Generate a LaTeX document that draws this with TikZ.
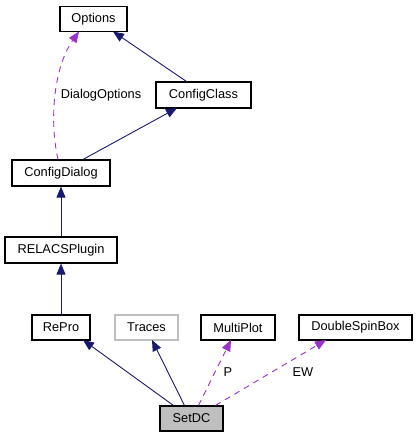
\documentclass[tikz,border=0pt]{standalone}
\usepackage{fontspec}
\setmainfont{Liberation Sans}
\usetikzlibrary{arrows.meta}
\definecolor{navyedge}{HTML}{191970}
\definecolor{purpleedge}{HTML}{9A32CD}
\definecolor{grayfill}{HTML}{BFBFBF}
\begin{document}
\begin{tikzpicture}[x=1pt,y=-1pt,
  box/.style={draw=black,line width=1.1pt,fill=white,inner sep=0pt,font=\fontsize{12.8}{15}\selectfont},
  inherit/.style={draw=navyedge,line width=0.9pt,-{Triangle[length=11pt,width=9pt,fill=navyedge]}},
  usage/.style={draw=purpleedge,line width=0.9pt,dash pattern=on 6pt off 5pt,-{Triangle[length=11pt,width=9pt,fill=purpleedge]}},
  lbl/.style={font=\fontsize{12.8}{15}\selectfont,inner sep=0pt}]
\useasboundingbox (0,0) rectangle (416,437);
\node[box,minimum width=67pt,minimum height=25pt] (options) at (93.5,19) {Options};
\node[box,minimum width=95pt,minimum height=26pt] (configclass) at (203.5,95) {ConfigClass};
\node[box,minimum width=98pt,minimum height=26pt] (configdialog) at (61,173) {ConfigDialog};
\node[box,minimum width=112pt,minimum height=26pt] (relacs) at (61,250) {RELACSPlugin};
\node[box,minimum width=58pt,minimum height=25pt] (repro) at (61,327.5) {RePro};
\node[box,draw=grayfill,minimum width=63pt,minimum height=25pt] (traces) at (146.5,327.5) {Traces};
\node[box,minimum width=74pt,minimum height=25pt] (multiplot) at (238,327.5) {MultiPlot};
\node[box,minimum width=113pt,minimum height=25pt] (dsb) at (355.5,327.5) {DoubleSpinBox};
\node[box,fill=grayfill,minimum width=63pt,minimum height=25pt] (setdc) at (191.5,418.5) {SetDC};

\draw[inherit] (configclass.north west) ++(31,0) coordinate (cc1) -- (113,31.5);
\draw[inherit] (configdialog.north) ++(22,0) coordinate (cd1) -- (177,108);
\draw[usage] (configdialog.north) ++(-3,0) coordinate (cd2) .. controls (50,125) and (52,70) .. (79,31.5);
\node[lbl] (dlabel) at (101,95) {DialogOptions};
\draw[inherit] (relacs.north) -- (configdialog.south);
\draw[inherit] (repro.north) -- (relacs.south);
\draw[inherit] (setdc.north west) ++(14,0) coordinate (s1) -- (83,340);
\draw[inherit] (setdc.north west) ++(25,0) coordinate (s2) -- (152,340);
\draw[usage] (setdc.north west) ++(39,0) coordinate (s3) -- (231,340);
\draw[usage] (setdc.north west) ++(56,0) coordinate (s4) -- (326,340);
\node[lbl] (plabel) at (228,372) {P};
\node[lbl] (ewlabel) at (303,372) {EW};
\end{tikzpicture}
\end{document}
